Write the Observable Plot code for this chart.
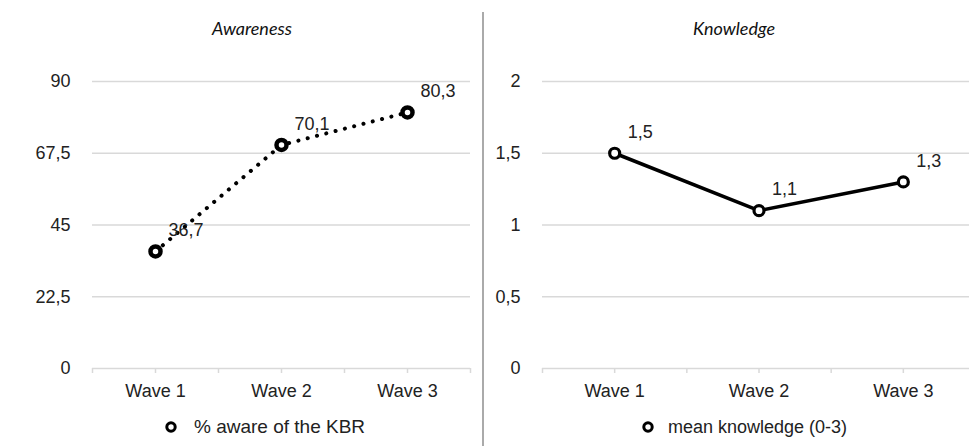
<!DOCTYPE html>
<html>
<head>
<meta charset="utf-8">
<script src="https://cdn.jsdelivr.net/npm/d3@7"></script>
<script src="https://cdn.jsdelivr.net/npm/@observablehq/plot@0.6"></script>
<style>
  html, body { margin: 0; padding: 0; background: #fff; }
  #wrap { position: relative; width: 969px; height: 446px; overflow: hidden; background: #fff;
          font-family: "Liberation Sans", Arial, sans-serif; color: #222; }
  .panel { position: absolute; top: 50px; }
  .panel svg { max-width: none !important; }
  .title { position: absolute; top: 17px; font-family: Lato, "Open Sans", sans-serif; font-style: italic;
           font-size: 18px; color: #111; transform: translateX(-50%); white-space: nowrap; }
  .legend { position: absolute; top: 416px; font-size: 18px; color: #222; white-space: nowrap;
            display: flex; align-items: center; line-height: 22px; }
  #sep { position: absolute; left: 482px; top: 12px; width: 1.5px; height: 440px; background: #aaa; }
</style>
</head>
<body>
<div id="wrap">
  <div class="title" style="left:252px">Awareness</div>
  <div class="title" style="left:734px">Knowledge</div>
  <div id="sep"></div>
  <div id="left" class="panel" style="left:0px; width:484px"></div>
  <div id="right" class="panel" style="left:485px; width:500px"></div>
  <div id="legL" class="legend" style="left:163px"></div>
  <div id="legR" class="legend" style="left:640px"></div>
</div>
<script>
const waves = ["Wave 1", "Wave 2", "Wave 3"];
const awareness = [36.7, 70.1, 80.3];
const knowledge = [1.5, 1.1, 1.3];
const awarenessTicks = [0, 22.5, 45, 67.5, 90];
const knowledgeTicks = [0, 0.5, 1, 1.5, 2];
const seriesNames = ["% aware of the KBR", "mean knowledge (0-3)"];

const fmt = d => String(d).replace(".", ",");

function panel(values, yTicks, dotted, width, marginLeft, marginRight) {
  const data = waves.map((w, i) => ({x: i + 0.5, y: values[i], label: fmt(values[i])}));
  const centers = waves.map((w, i) => i + 0.5);
  const allTicks = d3.range(0, waves.length + 0.25, 0.5);
  return Plot.plot({
    width, height: 360,
    marginTop: 31, marginBottom: 42, marginLeft, marginRight,
    style: {fontFamily: "'Liberation Sans', Arial, sans-serif", fontSize: "18px", color: "#222", background: "transparent", overflow: "visible"},
    x: {domain: [0, waves.length], label: null},
    y: {domain: [0, yTicks[yTicks.length - 1]], label: null},
    marks: [
      Plot.gridY(yTicks, {stroke: "#d9d9d9", strokeOpacity: 1, strokeWidth: 1.5}),
      Plot.axisY(yTicks, {tickSize: 0, tickPadding: 22, tickFormat: fmt, fontSize: 18, label: null}),
      Plot.axisX(allTicks, {tickSize: 5, tickFormat: () => "", color: "#d9d9d9", strokeWidth: 1.5, strokeOpacity: 1, label: null}),
      Plot.axisX(centers, {tickSize: 0, tickPadding: 16, tickFormat: i => waves[Math.floor(i)], fontSize: 18, label: null}),
      Plot.line(data, {x: "x", y: "y", stroke: "#000", strokeWidth: dotted ? 4 : 3.5,
        strokeDasharray: dotted ? "0.1,9.5" : null, strokeLinecap: "round", strokeLinejoin: "round"}),
      Plot.dot(data, {x: "x", y: "y", r: 5, fill: "#fff", stroke: "#000", strokeWidth: dotted ? 4.5 : 3.2}),
      Plot.text(data, {x: "x", y: "y", text: "label", dx: 13, dy: -21, textAnchor: "start", fontSize: 18, fill: "#222"})
    ]
  });
}

document.getElementById("left").append(panel(awareness, awarenessTicks, true, 484, 92, 14));
document.getElementById("right").append(panel(knowledge, knowledgeTicks, false, 500, 57, 10));

function legend(el, name, gap, size) {
  const ns = "http://www.w3.org/2000/svg";
  const s = document.createElementNS(ns, "svg");
  s.setAttribute("width", 16); s.setAttribute("height", 16);
  s.style.marginRight = gap + "px";
  const c = document.createElementNS(ns, "circle");
  c.setAttribute("cx", 8); c.setAttribute("cy", 8); c.setAttribute("r", 4.2);
  c.setAttribute("fill", "#fff"); c.setAttribute("stroke", "#000"); c.setAttribute("stroke-width", 3);
  s.append(c);
  el.append(s);
  const t = document.createElement("span");
  t.textContent = name;
  t.style.fontSize = size + "px";
  el.append(t);
}
legend(document.getElementById("legL"), seriesNames[0], 15, 19);
legend(document.getElementById("legR"), seriesNames[1], 12, 18);
</script>
</body>
</html>
